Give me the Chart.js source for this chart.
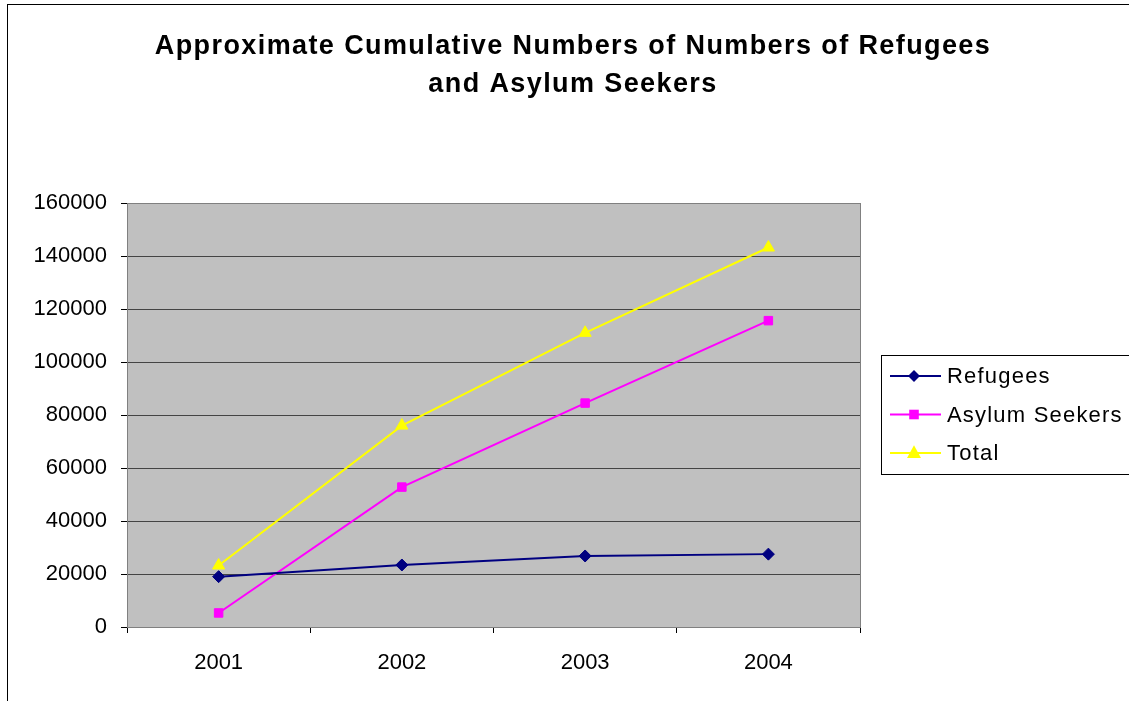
<!DOCTYPE html>
<html>
<head>
<meta charset="utf-8">
<script src="https://cdn.jsdelivr.net/npm/chart.js@4.4.0/dist/chart.umd.min.js"></script>
<style>
  html, body { margin: 0; padding: 0; background: #fff; }
  #wrap { width: 1129px; height: 701px; }
</style>
</head>
<body>
<div id="wrap"><canvas id="lineChart" width="1129" height="701"></canvas></div>
<script>
const years = ["2001", "2002", "2003", "2004"];
const refugees = [19000, 23400, 26800, 27500];
const asylumSeekers = [5300, 52800, 84500, 115600];
const total = [23200, 76000, 111000, 143200];
const titleLines = ["Approximate Cumulative Numbers of Numbers of Refugees", "and Asylum Seekers"];

const chartBox = { left: 127, top: 203, right: 860, bottom: 627 };
const fontFamily = "'Liberation Sans', Arial, sans-serif";

// gray plot background, outer frame, title and legend
const excelLook = {
    id: "excelLook",
    beforeDraw(chart) {
        const { ctx, chartArea } = chart;
        ctx.save();
        ctx.fillStyle = "#c0c0c0";
        ctx.fillRect(chartArea.left, chartArea.top, chartArea.right - chartArea.left, chartArea.bottom - chartArea.top);
        ctx.strokeStyle = "#000";
        ctx.lineWidth = 1;
        ctx.strokeRect(7.5, 4.5, 1200, 800);
        ctx.restore();
    },
    afterDraw(chart) {
        const { ctx, chartArea } = chart;
        ctx.save();
        ctx.strokeStyle = "#808080";
        ctx.lineWidth = 1;
        ctx.strokeRect(chartArea.left + 0.5, chartArea.top + 0.5, chartArea.right - chartArea.left, chartArea.bottom - chartArea.top);

        ctx.fillStyle = "#000";
        ctx.textAlign = "center";
        ctx.textBaseline = "middle";
        ctx.font = "bold 27px " + fontFamily;
        ctx.letterSpacing = "1.4px";
        ctx.fillText(titleLines[0], 573, 47);
        ctx.fillText(titleLines[1], 573, 85);

        // legend
        const lx = 881, ly = 355;
        ctx.fillStyle = "#fff";
        ctx.fillRect(lx, ly, 260, 119);
        ctx.strokeStyle = "#000";
        ctx.strokeRect(lx + 0.5, ly + 0.5, 260, 119);
        ctx.textAlign = "left";
        ctx.font = "22px " + fontFamily;
        ctx.letterSpacing = "1.2px";
        chart.data.datasets.forEach((ds, i) => {
            const y = ly + 21 + i * 38.5;
            ctx.strokeStyle = ds.borderColor;
            ctx.lineWidth = 2;
            ctx.beginPath();
            ctx.moveTo(890, y);
            ctx.lineTo(941, y);
            ctx.stroke();
            ctx.fillStyle = ds.backgroundColor;
            drawMarker(ctx, ds.pointStyle, 914, y, ds.pointRadius);
            ctx.fillStyle = "#000";
            ctx.fillText(ds.label, 947, y + 1);
        });
        ctx.restore();
    },
};

const drawMarker = (ctx, style, x, y, r) => {
    ctx.beginPath();
    if (style === "rectRot") {
        ctx.moveTo(x, y - r); ctx.lineTo(x + r, y); ctx.lineTo(x, y + r); ctx.lineTo(x - r, y);
    } else if (style === "rect") {
        ctx.rect(x - r * 0.8, y - r * 0.8, r * 1.6, r * 1.6);
    } else {
        ctx.moveTo(x, y - r * 1.1); ctx.lineTo(x + r, y + r * 0.7); ctx.lineTo(x - r, y + r * 0.7);
    }
    ctx.closePath();
    ctx.fill();
};

const makeDataset = (label, data, color, pointStyle, radius) => ({
    label: label,
    data: data,
    borderColor: color,
    backgroundColor: color,
    pointBackgroundColor: color,
    pointBorderColor: color,
    borderWidth: 2,
    pointStyle: pointStyle,
    pointRadius: radius,
    pointBorderWidth: 1,
    tension: 0,
    fill: false,
});

new Chart(document.getElementById("lineChart"), {
    type: "line",
    data: {
        labels: years,
        datasets: [
            makeDataset("Refugees", refugees, "#000080", "rectRot", 6),
            makeDataset("Asylum Seekers", asylumSeekers, "#ff00ff", "rect", 6),
            makeDataset("Total", total, "#ffff00", "triangle", 7),
        ],
    },
    options: {
        responsive: false,
        animation: false,
        events: [],
        layout: {
            padding: { left: 0, top: chartBox.top, right: 1129 - chartBox.right, bottom: 0 },
        },
        plugins: {
            legend: { display: false },
            title: { display: false },
            tooltip: { enabled: false },
        },
        scales: {
            x: {
                offset: true,
                grid: {
                    offset: true,
                    drawOnChartArea: false,
                    drawTicks: true,
                    tickLength: 6,
                    color: "#000",
                },
                border: { color: "#000", width: 1 },
                ticks: {
                    color: "#000",
                    padding: 17,
                    font: { family: fontFamily, size: 22 },
                },
                afterFit: (scale) => { scale.height = 701 - chartBox.bottom; },
            },
            y: {
                min: 0,
                max: 160000,
                grid: {
                    color: "#444",
                    drawTicks: true,
                    tickLength: 6,
                    tickColor: "#000",
                },
                border: { color: "#000", width: 1 },
                ticks: {
                    stepSize: 20000,
                    color: "#000",
                    padding: 14,
                    font: { family: fontFamily, size: 22 },
                    callback: (v) => String(v),
                },
                afterFit: (scale) => { scale.width = chartBox.left; },
            },
        },
    },
    plugins: [excelLook],
});
</script>
</body>
</html>
